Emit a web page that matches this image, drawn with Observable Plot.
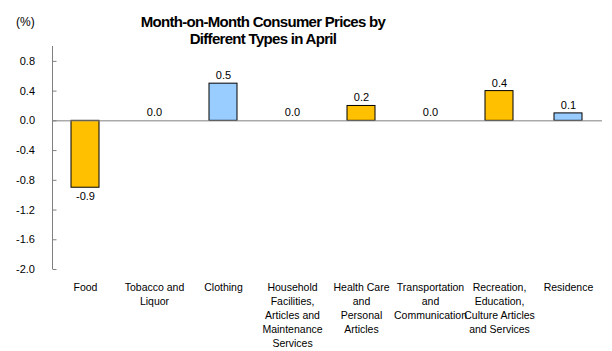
<!DOCTYPE html>
<html>
<head>
<meta charset="utf-8">
<script src="https://cdn.jsdelivr.net/npm/d3@7"></script>
<script src="https://cdn.jsdelivr.net/npm/@observablehq/plot@0.6"></script>
<style>
  html, body { margin: 0; padding: 0; background: #fff; }
  #wrap { position: relative; width: 612px; height: 351px; font-family: "Liberation Sans", Arial, sans-serif; }
  #title { position: absolute; left: 263px; top: 13px; transform: translateX(-50%); text-align: center; font-weight: bold; font-size: 15px; letter-spacing: -0.7px; line-height: 17px; white-space: nowrap; color: #000; }
  #unit { position: absolute; left: 16px; top: 15px; font-size: 12px; color: #000; }
  #chart { position: absolute; left: 0; top: 0; }
</style>
</head>
<body>
<div id="wrap">
  <div id="chart"></div>
  <div id="title">Month-on-Month Consumer Prices by<br>Different Types in April</div>
  <div id="unit">(%)</div>
</div>
<script>
const categories = ["Food", "Tobacco and\nLiquor", "Clothing", "Household\nFacilities,\nArticles and\nMaintenance\nServices", "Health Care\nand\nPersonal\nArticles", "Transportation\nand\nCommunication", "Recreation,\nEducation,\nCulture Articles\nand Services", "Residence"];
const values = [-0.9, 0.0, 0.5, 0.0, 0.2, 0.0, 0.4, 0.1];
const colors = ["#FFC000", "#FFC000", "#99CCFF", "#99CCFF", "#FFC000", "#FFC000", "#FFC000", "#99CCFF"];
const yTicks = [-2.0, -1.6, -1.2, -0.8, -0.4, 0.0, 0.4, 0.8];

const data = categories.map((c, i) => ({cat: c, value: values[i], color: colors[i]}));

const chart = Plot.plot({
  width: 612,
  height: 351,
  marginTop: 46,
  marginBottom: 82,
  marginLeft: 52,
  marginRight: 10,
  style: {fontFamily: "'Liberation Sans', Arial, sans-serif", fontSize: "11px", color: "#000", background: "transparent"},
  x: {domain: categories, range: [50, 602], paddingInner: 0.6, paddingOuter: 0.3, label: null},
  y: {domain: [-2, 1], label: null},
  marks: [
    Plot.axisY({ticks: yTicks, tickFormat: d => d.toFixed(1), tickSize: -4, tickPadding: 22, dx: 0.5, stroke: "#808080", fontSize: 11, label: null}),
    Plot.axisX({tickSize: 0, tickPadding: 12, lineHeight: 1.33, fontSize: 10.5, label: null}),
    Plot.barY(data, {x: "cat", y: "value", fill: "color", stroke: "#000", strokeWidth: 1}),
    Plot.ruleY([0], {stroke: "#808080", strokeWidth: 1}),
    Plot.text(data, {x: "cat", y: d => Math.max(d.value, 0), text: d => d.value.toFixed(1), dy: -8, filter: d => d.value >= 0, fontSize: 11}),
    Plot.text(data, {x: "cat", y: "value", text: d => d.value.toFixed(1), dy: 9, filter: d => d.value < 0, fontSize: 11})
  ]
});

// y-axis line
const svg = d3.select(chart);
svg.append("line").attr("x1", 52.5).attr("x2", 52.5).attr("y1", 46).attr("y2", 269).attr("stroke", "#808080");
document.getElementById("chart").appendChild(chart);
</script>
</body>
</html>
